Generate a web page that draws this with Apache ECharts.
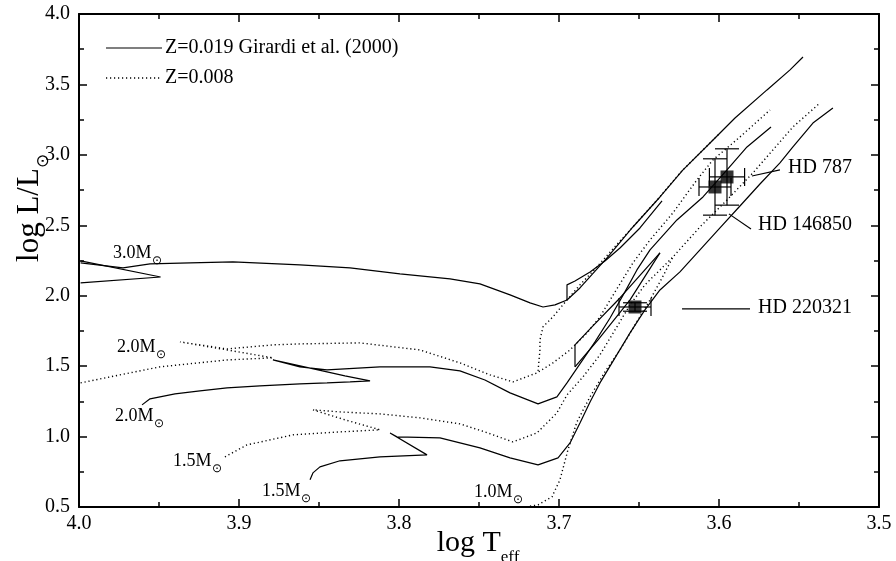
<!DOCTYPE html>
<html>
<head>
<meta charset="utf-8">
<script src="https://cdn.jsdelivr.net/npm/echarts@6/dist/echarts.min.js"></script>
<style>
  html, body { margin: 0; padding: 0; background: #fff; }
  #main { width: 896px; height: 561px; }
</style>
</head>
<body>
<div id="main"></div>
<script>
// axis ticks
var xTickLabels = ['3.5', '3.6', '3.7', '3.8', '3.9', '4.0'];
var yTickLabels = ['0.5', '1.0', '1.5', '2.0', '2.5', '3.0', '3.5', '4.0'];

// Z=0.019 tracks (solid) [log Teff, log L]
var s30Hook = [[3.999, 2.091], [3.949, 2.133], [3.999, 2.247]];
var s30 = [[3.999, 2.233], [3.9725, 2.197], [3.9556, 2.226], [3.9306, 2.233], [3.9038, 2.240],
  [3.8619, 2.219], [3.8306, 2.197], [3.7994, 2.155], [3.7681, 2.119], [3.7494, 2.084],
  [3.7306, 2.006], [3.7181, 1.949], [3.71, 1.920], [3.7025, 1.935], [3.695, 1.970],
  [3.6869, 2.055], [3.67, 2.268], [3.6538, 2.488], [3.6369, 2.701], [3.6225, 2.893],
  [3.6056, 3.084], [3.59, 3.262], [3.57, 3.461], [3.5556, 3.603], [3.5475, 3.695]];
var s30Loop = [[3.695, 1.970], [3.695, 2.077], [3.69, 2.105], [3.6806, 2.169], [3.6713, 2.247],
  [3.6619, 2.339], [3.6494, 2.481], [3.6356, 2.673]];
var s20 = [[3.9606, 1.225], [3.9556, 1.268], [3.94, 1.303], [3.9244, 1.324], [3.9075, 1.346],
  [3.8869, 1.360], [3.8619, 1.374], [3.845, 1.381], [3.8306, 1.388], [3.8181, 1.395],
  [3.8338, 1.431], [3.845, 1.459], [3.8619, 1.502], [3.8788, 1.544],
  [3.8619, 1.495], [3.845, 1.473], [3.8119, 1.495], [3.7806, 1.495], [3.7619, 1.466],
  [3.7463, 1.402], [3.7306, 1.310], [3.7131, 1.232], [3.7013, 1.282], [3.695, 1.381],
  [3.6869, 1.516], [3.6775, 1.672], [3.6681, 1.842], [3.6588, 2.027], [3.6513, 2.183],
  [3.6431, 2.325], [3.6263, 2.538], [3.61, 2.701], [3.595, 2.893], [3.5825, 3.056],
  [3.5675, 3.198]];
var s20ClumpA = [[3.69, 1.495], [3.69, 1.651], [3.6794, 1.779], [3.6619, 1.984], [3.6369, 2.304]];
var s20ClumpB = [[3.69, 1.495], [3.6756, 1.686], [3.6556, 1.970], [3.6369, 2.304]];
var s15 = [[3.8556, 0.693], [3.8538, 0.742], [3.8494, 0.785], [3.8369, 0.828], [3.8119, 0.856],
  [3.7825, 0.870], [3.8056, 1.026], [3.8013, 0.998], [3.7744, 0.991], [3.7494, 0.920],
  [3.7306, 0.849], [3.7131, 0.799], [3.7006, 0.849], [3.6931, 0.955], [3.6869, 1.097],
  [3.6806, 1.246], [3.6744, 1.381], [3.665, 1.559], [3.6556, 1.736], [3.6463, 1.899],
  [3.6369, 2.041], [3.6244, 2.169], [3.6119, 2.325], [3.5994, 2.481], [3.5869, 2.637],
  [3.5744, 2.793], [3.5619, 2.943], [3.5538, 3.056], [3.5413, 3.226], [3.5288, 3.333]];

// Z=0.008 tracks (dotted)
var d20 = [[3.999, 1.381], [3.9744, 1.438], [3.9494, 1.495], [3.9075, 1.544], [3.8788, 1.559],
  [3.9075, 1.615], [3.9369, 1.672], [3.9075, 1.622], [3.8788, 1.651], [3.8619, 1.658],
  [3.8244, 1.665], [3.7869, 1.615], [3.7619, 1.523], [3.7431, 1.438], [3.7288, 1.388],
  [3.7138, 1.452], [3.7038, 1.523], [3.6931, 1.615], [3.6825, 1.736], [3.6744, 1.850],
  [3.665, 2.027], [3.6538, 2.233], [3.6431, 2.396], [3.6288, 2.588], [3.6138, 2.822],
  [3.6038, 2.964], [3.5869, 3.127], [3.5681, 3.319]];
var d20Agb = [[3.7131, 1.466], [3.7119, 1.615], [3.7119, 1.686], [3.71, 1.779], [3.7038, 1.850],
  [3.695, 1.970], [3.6869, 2.077], [3.6769, 2.197], [3.6669, 2.325], [3.655, 2.474],
  [3.6381, 2.687], [3.6238, 2.879], [3.6069, 3.070], [3.5994, 3.155]];
var d15 = [[3.9088, 0.856], [3.895, 0.941], [3.8663, 1.012], [3.8369, 1.033], [3.8119, 1.048],
  [3.8338, 1.119], [3.8538, 1.190], [3.8369, 1.175], [3.8119, 1.161], [3.7869, 1.133],
  [3.7619, 1.090], [3.7463, 1.033], [3.7288, 0.962], [3.7138, 1.026], [3.7013, 1.168],
  [3.695, 1.296], [3.685, 1.424], [3.6744, 1.580], [3.665, 1.757], [3.6556, 1.935],
  [3.6463, 2.077], [3.6369, 2.183], [3.6288, 2.275]];
var d10 = [[3.7206, 0.501], [3.7131, 0.515], [3.7044, 0.572], [3.6994, 0.693], [3.6944, 0.906],
  [3.6888, 1.104], [3.6806, 1.282], [3.6713, 1.459], [3.6619, 1.615], [3.6525, 1.793],
  [3.6431, 1.970], [3.6356, 2.126], [3.6288, 2.275], [3.6119, 2.488], [3.595, 2.680],
  [3.5788, 2.872], [3.5663, 3.035], [3.5538, 3.198], [3.5369, 3.368]];

// stars: name, log Teff, log L, err Teff, err L
var starNames = ['HD 787', 'HD 146850', 'HD 220321'];
var starTeff = [3.595, 3.6025, 3.6525];
var starLum = [2.843, 2.772, 1.920];
var starErrT = [0.011, 0.010, 0.010];
var starErrL = [0.20, 0.20, 0.03];
var leaders = [
  [[3.5794, 2.850], [3.5619, 2.893]],
  [[3.5938, 2.581], [3.58, 2.474]],
  [[3.6231, 1.906], [3.5806, 1.906]]
];

var serif = 'Liberation Serif, Times New Roman, serif';
var chart = echarts.init(document.getElementById('main'));

function track(data, dotted) {
  return {
    type: 'line', data: data, showSymbol: false, symbol: 'none', silent: true,
    animation: false, clip: true,
    lineStyle: dotted ? { color: '#000', width: 1.4, type: [1.2, 2.8] } : { color: '#000', width: 1.2 }
  };
}

function axisX(pos, labels) {
  return {
    type: 'value', position: pos, inverse: true, min: 3.5, max: 4.0, interval: 0.1,
    axisLine: { show: true, onZero: false, lineStyle: { color: '#000', width: 2 } },
    axisTick: { show: true, inside: true, length: 8, lineStyle: { color: '#000', width: 1.5 } },
    minorTick: { show: true, splitNumber: 2, length: 5, lineStyle: { color: '#000', width: 1.5 } },
    splitLine: { show: false },
    axisLabel: {
      show: labels, margin: 7, color: '#000', fontFamily: serif, fontSize: 20,
      formatter: function (v) { return xTickLabels[Math.round((v - 3.5) * 10)]; }
    }
  };
}
function axisY(pos, labels) {
  return {
    type: 'value', position: pos, min: 0.5, max: 4.0, interval: 0.5,
    axisLine: { show: true, onZero: false, lineStyle: { color: '#000', width: 2 } },
    axisTick: { show: true, inside: true, length: 8, lineStyle: { color: '#000', width: 1.5 } },
    minorTick: { show: true, splitNumber: 2, length: 5, lineStyle: { color: '#000', width: 1.5 } },
    splitLine: { show: false },
    axisLabel: {
      show: labels, margin: 9, color: '#000', fontFamily: serif, fontSize: 20,
      formatter: function (v) { return yTickLabels[Math.round((v - 0.5) * 2)]; }
    }
  };
}

var series = [
  track(s30Hook), track(s30), track(s30Loop), track(s20), track(s20ClumpA), track(s20ClumpB), track(s15),
  track(d20, true), track(d20Agb, true), track(d15, true), track(d10, true)
];
leaders.forEach(function (l) { series.push(track(l)); });

var starData = starNames.map(function (n, i) {
  return [starTeff[i], starLum[i], starErrT[i], starErrL[i]];
});
series.push({
  type: 'custom', data: starData, silent: true, animation: false,
  renderItem: function (params, api) {
    var t = api.value(0), l = api.value(1), et = api.value(2), el = api.value(3);
    var top = api.coord([t, l + el]), bot = api.coord([t, l - el]);
    var lft = api.coord([t + et, l]), rgt = api.coord([t - et, l]);
    var cw = 12, ch = 9;
    var st = { stroke: '#000', lineWidth: 1.2 };
    function ln(x1, y1, x2, y2) { return { type: 'line', shape: { x1: x1, y1: y1, x2: x2, y2: y2 }, style: st }; }
    return {
      type: 'group', children: [
        ln(top[0], top[1], bot[0], bot[1]),
        ln(top[0] - cw, top[1], top[0] + cw, top[1]),
        ln(bot[0] - cw, bot[1], bot[0] + cw, bot[1]),
        ln(lft[0], lft[1], rgt[0], rgt[1]),
        ln(lft[0], lft[1] - ch, lft[0], lft[1] + ch),
        ln(rgt[0], rgt[1] - ch, rgt[0], rgt[1] + ch)
      ]
    };
  }
});
series.push({
  type: 'scatter', data: starData.map(function (d) { return [d[0], d[1]]; }),
  symbol: 'rect', symbolSize: 13, itemStyle: { color: '#000' }, silent: true, animation: false, z: 5
});

function sunText(x, y, main, sub, size, subSize, drop, rot, align) {
  return {
    type: 'text', x: x, y: y, rotation: rot || 0, silent: true,
    style: {
      text: '{a|' + main + '}{b|' + sub + '}',
      align: align || 'left', verticalAlign: 'middle',
      rich: {
        a: { fontFamily: serif, fontSize: size, fill: '#000', lineHeight: size + drop * 2, verticalAlign: 'middle' },
        b: { fontFamily: serif, fontSize: subSize, fill: '#000', lineHeight: subSize, verticalAlign: 'bottom' }
      }
    }
  };
}

var graphics = [
  // legend
  { type: 'line', shape: { x1: 106, y1: 48, x2: 162, y2: 48 }, style: { stroke: '#000', lineWidth: 1.2 } },
  { type: 'line', shape: { x1: 106, y1: 78, x2: 162, y2: 78 }, style: { stroke: '#000', lineWidth: 1.4, lineDash: [1.2, 2.8] } },
  { type: 'text', x: 165, y: 48, style: { text: 'Z=0.019 Girardi et al. (2000)', font: '20px ' + serif, fill: '#000', verticalAlign: 'middle' } },
  { type: 'text', x: 165, y: 78, style: { text: 'Z=0.008', font: '20px ' + serif, fill: '#000', verticalAlign: 'middle' } },
  // star labels
  { type: 'text', x: 788, y: 168, style: { text: starNames[0], font: '20px ' + serif, fill: '#000', verticalAlign: 'middle' } },
  { type: 'text', x: 758, y: 225, style: { text: starNames[1], font: '20px ' + serif, fill: '#000', verticalAlign: 'middle' } },
  { type: 'text', x: 758, y: 308, style: { text: starNames[2], font: '20px ' + serif, fill: '#000', verticalAlign: 'middle' } },
  // mass labels
  sunText(113, 253, '3.0M', '⊙', 18, 12, 5),
  sunText(117, 347, '2.0M', '⊙', 18, 12, 5),
  sunText(115, 416, '2.0M', '⊙', 18, 12, 5),
  sunText(173, 461, '1.5M', '⊙', 18, 12, 5),
  sunText(262, 491, '1.5M', '⊙', 18, 12, 5),
  sunText(474, 492, '1.0M', '⊙', 18, 12, 5),
  // axis titles
  sunText(478, 543, 'log T', 'eff', 30, 17, 8, 0, 'center'),
  sunText(30, 208, 'log L/L', '⊙', 31, 17, 7, Math.PI / 2, 'center')
];

chart.setOption({
  animation: false,
  backgroundColor: '#fff',
  grid: { left: 79, right: 17, top: 14, bottom: 54 },
  xAxis: [axisX('bottom', true), axisX('top', false)],
  yAxis: [axisY('left', true), axisY('right', false)],
  series: series,
  graphic: graphics
});
</script>
</body>
</html>
